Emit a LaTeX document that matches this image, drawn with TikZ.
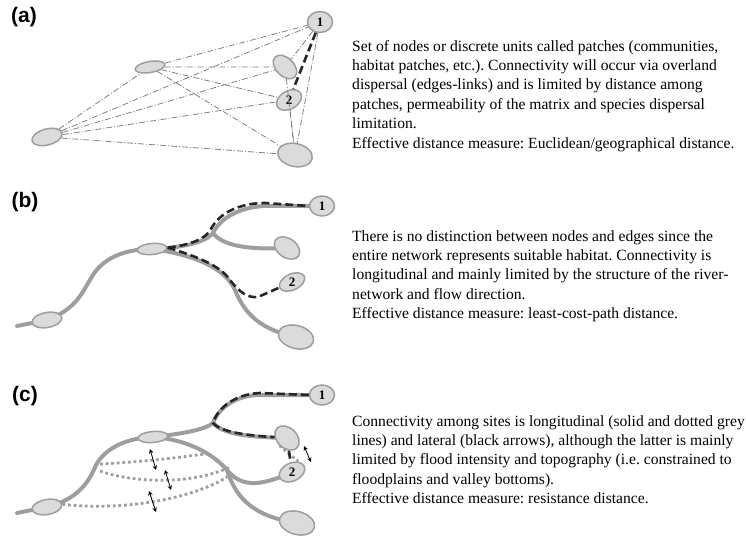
\documentclass[tikz,border=0pt]{standalone}
\usepackage{fontspec}
\setmainfont{Liberation Serif}
\setsansfont{Liberation Sans}
\usetikzlibrary{positioning}
\usetikzlibrary{shapes.geometric,arrows.meta,backgrounds}
\definecolor{patchfill}{gray}{0.86}
\definecolor{patchline}{gray}{0.62}
\definecolor{river}{gray}{0.62}
\definecolor{linkgray}{gray}{0.5}
\tikzset{patch/.style={ellipse,draw=patchline,fill=patchfill,line width=1.5pt,inner sep=0pt} }
\tikzset{patch size/.style 2 args={minimum width=#1pt,minimum height=#2pt} }
\tikzset{num/.style={font=\bfseries\fontsize{13}{13}\selectfont,inner sep=0pt} }
\tikzset{link/.style={draw=linkgray,line width=0.8pt,dash pattern=on 6pt off 2pt on 1pt off 2pt} }
\tikzset{river line/.style={draw=river,line width=4pt,line cap=round} }
\tikzset{path line/.style={draw=black!85,line width=2.6pt,dash pattern=on 8pt off 4pt} }
\tikzset{flood line/.style={draw=river,line width=2.8pt,dash pattern=on 2.8pt off 2.8pt} }
\tikzset{lateral/.style={{Stealth[length=4.5pt,width=4.5pt]}-{Stealth[length=4.5pt,width=4.5pt]},line width=0.8pt} }
\tikzset{panel label/.style={font=\sffamily\bfseries\fontsize{21}{21}\selectfont,inner sep=0pt} }
\tikzset{caption/.style={align=left,anchor=north west,inner sep=0pt,font=\fontsize{15.6}{19.4}\selectfont\frenchspacing} }

\begin{document}
\begin{tikzpicture}[x=1pt,y=-1pt]
\useasboundingbox (0,0) rectangle (746,537);

  % (a) patches and overland links
  \node[panel label] (la) at (24,17) {(a)};
  \node[patch,patch size={25}{21}] (a1) at (320,22) {};
  \node[patch,patch size={27}{18},rotate=30] (a2) at (289,100) {};
  \node[patch,patch size={28}{18},rotate=-45] (a3) at (285,67) {};
  \node[patch,patch size={30}{11},rotate=10] (a4) at (150,67) {};
  \node[patch,patch size={31}{16},rotate=15] (a5) at (47,137) {};
  \node[patch,patch size={35}{23},rotate=-12] (a6) at (295,155) {};
  \node[num] at (a1.center) {1};
  \node[num] at (a2.center) {2};

    \path[link]
    (a5) edge (a4)
    (a5) edge (a1)
    (a5) edge (a3)
    (a5) edge (a2)
    (a5) edge (a6)
    (a4) edge (a1)
    (a4) edge (a3)
    (a4) edge (a2)
    (a4) edge (a6)
    (a1) edge (a3)
    (a1) edge (a6)
    (a3) edge (a6)
    (a2) edge (a6)
    ;
  \draw[path line] (a1) -- (a2);

  \node[caption] (ta) at (352,40) {Set of nodes or discrete units called patches (communities,\\
    habitat patches, etc.). Connectivity will occur via overland\\
    dispersal (edges-links) and is limited by distance among\\
    patches, permeability of the matrix and species dispersal\\
    limitation.\\
    Effective distance measure: Euclidean/geographical distance.};

  % (b) river network
  \node[panel label] (lb) at (25,202) {(b)};
  \node[patch,patch size={25}{20}] (b1) at (322,206) {};
  \node[patch,patch size={27}{16},rotate=25] (b2) at (292,282) {};
  \node[patch,patch size={28}{19},rotate=-35] (b3) at (287,248) {};
  \node[patch,patch size={30}{11},rotate=5] (b4) at (152,249) {};
  \node[patch,patch size={30}{15},rotate=10] (b5) at (47,320) {};
  \node[patch,patch size={36}{23},rotate=-15] (b6) at (296,337) {};
  \node[num] at (b1.center) {1};
  \node[num] at (b2.center) {2};
  \coordinate (bj) at (213,233);

  \begin{scope}[on background layer]
    \draw[river line] (17,326) -- (b5.center) .. controls (80,308) and (84,287) .. (95,272)
      .. controls (108,255) and (130,249) .. (b4.center);
    \draw[river line] (b4.center) .. controls (180,248) and (205,243) .. (bj)
      .. controls (220,218) and (240,207) .. (265,206) -- (b1.center);
    \draw[river line] (bj) .. controls (222,245) and (245,250) .. (b3.center);
    \draw[river line] (b4.center) .. controls (195,255) and (225,268) .. (235,290)
      .. controls (245,315) and (262,330) .. (b6.center);
  \end{scope}
  \draw[path line] (b4.east) .. controls (190,245) and (206,239) .. (211,229)
    .. controls (219,213) and (240,203) .. (265,203) -- (b1.west);
  \draw[path line] (b4.east) .. controls (195,256) and (220,265) .. (230,280)
    .. controls (240,293) and (248,298) .. (258,297) -- (b2);

  \node[caption] (tb) at (352,230) {There is no distinction between nodes and edges since the\\
    entire network represents suitable habitat. Connectivity is\\
    longitudinal and mainly limited by the structure of the river-\\
    network and flow direction.\\
    Effective distance measure: least-cost-path distance.};

  % (c) river network with floodplain
  \node[panel label] (lc) at (25,396) {(c)};
  \node[patch,patch size={25}{20}] (c1) at (322,395) {};
  \node[patch,patch size={27}{18},rotate=25] (c2) at (292,472) {};
  \node[patch,patch size={28}{20},rotate=-45] (c3) at (287,438) {};
  \node[patch,patch size={30}{11},rotate=5] (c4) at (153,437) {};
  \node[patch,patch size={30}{15},rotate=10] (c5) at (47,507) {};
  \node[patch,patch size={36}{23},rotate=-15] (c6) at (297,523) {};
  \node[num] at (c1.center) {1};
  \node[num] at (c2.center) {2};
  \coordinate (cj) at (213,423);
  \coordinate (ck) at (227,470);

  \begin{scope}[on background layer]
    \draw[river line] (17,513) -- (c5.center) .. controls (75,500) and (88,485) .. (96,465)
      .. controls (106,447) and (128,438) .. (c4.center);
    \draw[river line] (c4.center) .. controls (180,434) and (205,430) .. (cj)
      .. controls (218,409) and (235,395) .. (260,395) -- (c1.center);
    \draw[river line] (cj) .. controls (222,433) and (242,437) .. (c3.center);
    \draw[river line] (c4.center) .. controls (190,440) and (214,455) .. (ck)
      .. controls (240,486) and (258,488) .. (c2.center);
    \draw[river line] (ck) .. controls (235,495) and (250,516) .. (c6.center);
    \draw[flood line] (100,464) .. controls (140,462) and (175,458) .. (205,454);
    \draw[flood line] (100,471) .. controls (130,482) and (190,486) .. (230,467);
    \draw[flood line] (c5.east) .. controls (130,512) and (200,496) .. (230,475);
    \draw[flood line] (c3.south) -- (c2.north east);
  \end{scope}
  \draw[path line] (c1.west) -- (260,393) .. controls (236,394) and (218,407) .. (cj)
    .. controls (220,431) and (240,435) .. (c3);
  \draw[path line] (c3) -- (c2);
  \draw[lateral] (150,449) -- (156,470);
  \draw[lateral] (165,470) -- (171,490);
  \draw[lateral] (149,491) -- (156,512);
  \draw[lateral] (304,446) -- (311,462);

  \node[caption] (tc) at (352,415) {Connectivity among sites is longitudinal (solid and dotted grey\\
    lines) and lateral (black arrows), although the latter is mainly\\
    limited by flood intensity and topography (i.e. constrained to\\
    floodplains and valley bottoms).\\
    Effective distance measure: resistance distance.};
\end{tikzpicture}
\end{document}
